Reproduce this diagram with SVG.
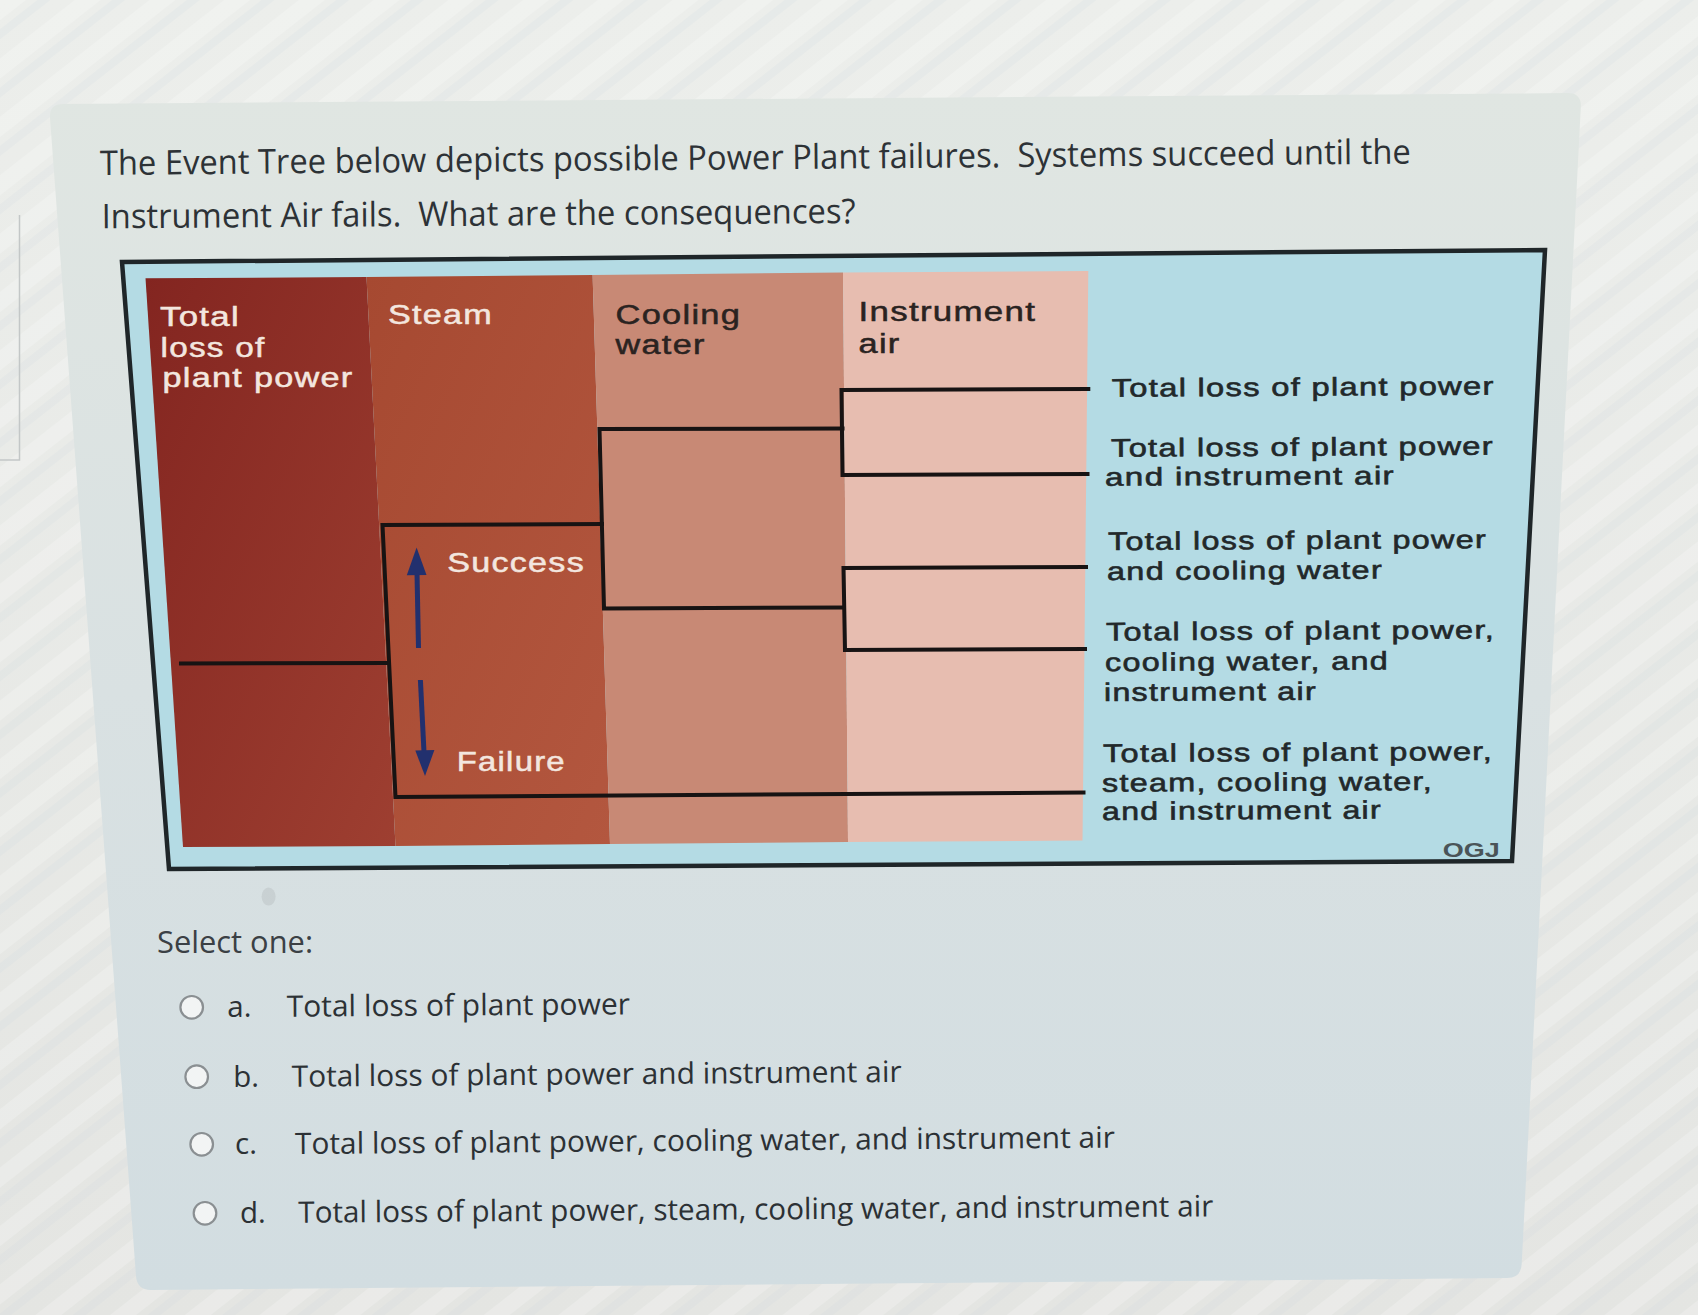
<svg xmlns="http://www.w3.org/2000/svg" width="1698" height="1315" viewBox="0 0 1698 1315">
  <defs>
    <linearGradient id="pageGrad" x1="0" y1="0" x2="0" y2="1">
      <stop offset="0" stop-color="#eceeeb"/>
      <stop offset="1" stop-color="#e4e5e2"/>
    </linearGradient>
    <linearGradient id="cardGrad" x1="0" y1="0" x2="0" y2="1">
      <stop offset="0" stop-color="#e0e6e2"/>
      <stop offset="0.5" stop-color="#d9e1e2"/>
      <stop offset="1" stop-color="#d2dde1"/>
    </linearGradient>
    <linearGradient id="col1Grad" x1="0" y1="0" x2="1" y2="1">
      <stop offset="0" stop-color="#832520"/>
      <stop offset="1" stop-color="#9e3f31"/>
    </linearGradient>
    <linearGradient id="col2Grad" x1="0" y1="0" x2="1" y2="1">
      <stop offset="0" stop-color="#a64931"/>
      <stop offset="1" stop-color="#b3573f"/>
    </linearGradient>
    <pattern id="moire" patternUnits="userSpaceOnUse" width="46" height="46" patternTransform="rotate(-38)">
      <rect width="46" height="16" fill="#ffffff" opacity="0.35"/>
      <rect y="23" width="46" height="8" fill="#c9d3dc" opacity="0.25"/>
    </pattern>
    <style>
      .hw { font-family: "Liberation Sans", Arial, sans-serif; font-size: 27px; fill: #f3e6df; stroke: #f3e6df; stroke-width: 0.5px; letter-spacing: 1px; }
      .hd { font-family: "Liberation Sans", Arial, sans-serif; font-size: 27px; fill: #2a2321; stroke: #2a2321; stroke-width: 0.5px; letter-spacing: 1px; }
      .lab { font-family: "Liberation Sans", Arial, sans-serif; font-size: 25.5px; fill: #22282a; stroke: #22282a; stroke-width: 0.6px; letter-spacing: 1px; }
      .ogj { font-family: "Liberation Sans", Arial, sans-serif; font-size: 21px; font-weight: bold; fill: #4a5458; }
      .q { font-family: "Open Sans", "Noto Sans", sans-serif; font-size: 34px; fill: #2d3236; }
      .sel { font-family: "Open Sans", "Noto Sans", sans-serif; font-size: 31px; fill: #3b4045; }
      .opt { font-family: "Open Sans", "Noto Sans", sans-serif; font-size: 29.5px; fill: #2c3135; }
      .radio { fill: #f2f4f4; stroke: #8a8f92; stroke-width: 2.2; }
      .branch { fill: none; stroke: #171313; stroke-width: 4; stroke-linejoin: miter; stroke-linecap: square; }
      .shaft { stroke: #22306e; stroke-width: 5; }
      .head { fill: #22306e; }
    </style>
  </defs>

  <g id="background">
    <rect x="0" y="0" width="1698" height="1315" fill="url(#pageGrad)"/>
    <rect x="0" y="0" width="1698" height="1315" fill="url(#moire)" opacity="0.6"/>
    <polyline points="19.5,215 19.5,460 0,460" fill="none" stroke="#c3c7c7" stroke-width="1.5"/>
  </g>

  <g id="card">
    <path d="M63,103.9 L1567.5,93.1 Q1581.5,93 1580.8,107 L1521.7,1264 Q1521,1278 1507,1278.1 L151,1289.9 Q137,1290 136,1276 L50,118 Q49,104 63,103.9 Z" fill="url(#cardGrad)"/>
  </g>

  <g id="question">
    <text class="q" x="100" y="175" transform="rotate(-0.5 100 175)" textLength="1311" lengthAdjust="spacingAndGlyphs" xml:space="preserve">The Event Tree below depicts possible Power Plant failures.  Systems succeed until the</text>
    <text class="q" x="101.7" y="228.3" transform="rotate(-0.4 101.7 228.3)" textLength="754" lengthAdjust="spacingAndGlyphs" xml:space="preserve">Instrument Air fails.  What are the consequences?</text>
  </g>

  <g id="diagram">
    <g id="frame">
      <polygon points="122,262 1545,250 1512,861 169,869" fill="#b4dbe4" stroke="#1f2629" stroke-width="4.5" stroke-linejoin="miter"/>
    </g>

    <g id="col-plant-power">
      <polygon points="145.5,278.3 366.5,277 395.5,846 183,847" fill="url(#col1Grad)"/>
      <text class="hw" x="160" y="326" textLength="80" lengthAdjust="spacingAndGlyphs">Total</text>
      <text class="hw" x="160.5" y="356.7" textLength="105" lengthAdjust="spacingAndGlyphs">loss of</text>
      <text class="hw" x="162.5" y="386.7" textLength="191" lengthAdjust="spacingAndGlyphs">plant power</text>
    </g>

    <g id="col-steam">
      <polygon points="366.5,277 592.6,275 610,844 395.5,846" fill="url(#col2Grad)"/>
      <text class="hw" x="388" y="323.5" textLength="105" lengthAdjust="spacingAndGlyphs">Steam</text>
    </g>

    <g id="col-cooling-water">
      <polygon points="592.6,275 843,272.5 848,842 610,844" fill="#c88975"/>
      <text class="hd" x="615.6" y="324" textLength="125.6" lengthAdjust="spacingAndGlyphs">Cooling</text>
      <text class="hd" x="615.6" y="354" textLength="90" lengthAdjust="spacingAndGlyphs">water</text>
    </g>

    <g id="col-instrument-air">
      <polygon points="843,272.5 1088.3,271 1082.5,840.5 848,842" fill="#e7bdb0"/>
      <text class="hd" x="858.6" y="321" textLength="177.6" lengthAdjust="spacingAndGlyphs">Instrument</text>
      <text class="hd" x="858.6" y="352.5" textLength="42" lengthAdjust="spacingAndGlyphs">air</text>
    </g>

    <g id="connectors">
      <path class="branch" d="M181,663.5 L389,663"/>
      <path class="branch" d="M602,524 L382.5,525 L395.5,797 L1083.5,792.5"/>
      <path class="branch" d="M842.5,428.5 L599.5,429 L604,608.5 L844,607.5"/>
      <path class="branch" d="M1088.3,389 L841.5,390 L842.5,475 L1087.5,474"/>
      <path class="branch" d="M1086,567 L843.5,568 L845,650 L1085,649"/>
    </g>

    <g id="success-arrow">
      <line class="shaft" x1="418.5" y1="648" x2="416.9" y2="568"/>
      <polygon class="head" points="416.6,547.5 426.5,575 406.8,575.3"/>
      <text class="hw" x="447.2" y="571.7" textLength="137.8" lengthAdjust="spacingAndGlyphs">Success</text>
    </g>

    <g id="failure-arrow">
      <line class="shaft" x1="420.4" y1="680" x2="424.2" y2="756"/>
      <polygon class="head" points="425,776 415.3,750.5 434.4,750"/>
      <text class="hw" x="456.8" y="770.7" textLength="109" lengthAdjust="spacingAndGlyphs">Failure</text>
    </g>

    <g id="outcome-1">
      <text class="lab" x="1111.7" y="396.7" transform="rotate(-0.3 1111.7 396.7)" textLength="383" lengthAdjust="spacingAndGlyphs">Total loss of plant power</text>
    </g>
    <g id="outcome-2">
      <text class="lab" x="1111" y="456.7" transform="rotate(-0.3 1111 456.7)" textLength="383" lengthAdjust="spacingAndGlyphs">Total loss of plant power</text>
      <text class="lab" x="1105" y="485.7" transform="rotate(-0.3 1105 485.7)" textLength="290" lengthAdjust="spacingAndGlyphs">and instrument air</text>
    </g>
    <g id="outcome-3">
      <text class="lab" x="1108" y="550" transform="rotate(-0.3 1108 550)" textLength="379" lengthAdjust="spacingAndGlyphs">Total loss of plant power</text>
      <text class="lab" x="1107" y="580" transform="rotate(-0.3 1107 580)" textLength="276" lengthAdjust="spacingAndGlyphs">and cooling water</text>
    </g>
    <g id="outcome-4">
      <text class="lab" x="1106" y="640.5" transform="rotate(-0.3 1106 640.5)" textLength="389" lengthAdjust="spacingAndGlyphs">Total loss of plant power,</text>
      <text class="lab" x="1105" y="671" transform="rotate(-0.3 1105 671)" textLength="284" lengthAdjust="spacingAndGlyphs">cooling water, and</text>
      <text class="lab" x="1104" y="701" transform="rotate(-0.3 1104 701)" textLength="213" lengthAdjust="spacingAndGlyphs">instrument air</text>
    </g>
    <g id="outcome-5">
      <text class="lab" x="1103" y="762" transform="rotate(-0.3 1103 762)" textLength="390" lengthAdjust="spacingAndGlyphs">Total loss of plant power,</text>
      <text class="lab" x="1102" y="791.7" transform="rotate(-0.3 1102 791.7)" textLength="331" lengthAdjust="spacingAndGlyphs">steam, cooling water,</text>
      <text class="lab" x="1102" y="820" transform="rotate(-0.3 1102 820)" textLength="280" lengthAdjust="spacingAndGlyphs">and instrument air</text>
    </g>
    <g id="credit">
      <text class="ogj" x="1442.7" y="856.7" textLength="57" lengthAdjust="spacingAndGlyphs">OGJ</text>
    </g>
  </g>

  <ellipse cx="268.6" cy="896.6" rx="7" ry="9" fill="#b9bfc1" opacity="0.45"/>

  <g id="select-prompt">
    <text class="sel" x="157" y="953" textLength="156" lengthAdjust="spacingAndGlyphs">Select one:</text>
  </g>

  <g id="option-a">
    <circle class="radio" cx="191.7" cy="1007.3" r="11.3"/>
    <text class="opt" x="227.3" y="1016.7">a.</text>
    <text class="opt" x="286.7" y="1016.7" transform="rotate(-0.4 286.7 1016.7)" textLength="343.3" lengthAdjust="spacingAndGlyphs">Total loss of plant power</text>
  </g>
  <g id="option-b">
    <circle class="radio" cx="196.7" cy="1076.7" r="11.3"/>
    <text class="opt" x="233.3" y="1086.7">b.</text>
    <text class="opt" x="291.7" y="1086.7" transform="rotate(-0.45 291.7 1086.7)" textLength="610" lengthAdjust="spacingAndGlyphs">Total loss of plant power and instrument air</text>
  </g>
  <g id="option-c">
    <circle class="radio" cx="201.7" cy="1144.3" r="11.3"/>
    <text class="opt" x="235" y="1154">c.</text>
    <text class="opt" x="295" y="1154" transform="rotate(-0.45 295 1154)" textLength="820" lengthAdjust="spacingAndGlyphs">Total loss of plant power, cooling water, and instrument air</text>
  </g>
  <g id="option-d">
    <circle class="radio" cx="205" cy="1213.3" r="11.3"/>
    <text class="opt" x="240" y="1222.7">d.</text>
    <text class="opt" x="298.3" y="1222.7" transform="rotate(-0.4 298.3 1222.7)" textLength="915" lengthAdjust="spacingAndGlyphs">Total loss of plant power, steam, cooling water, and instrument air</text>
  </g>
</svg>
